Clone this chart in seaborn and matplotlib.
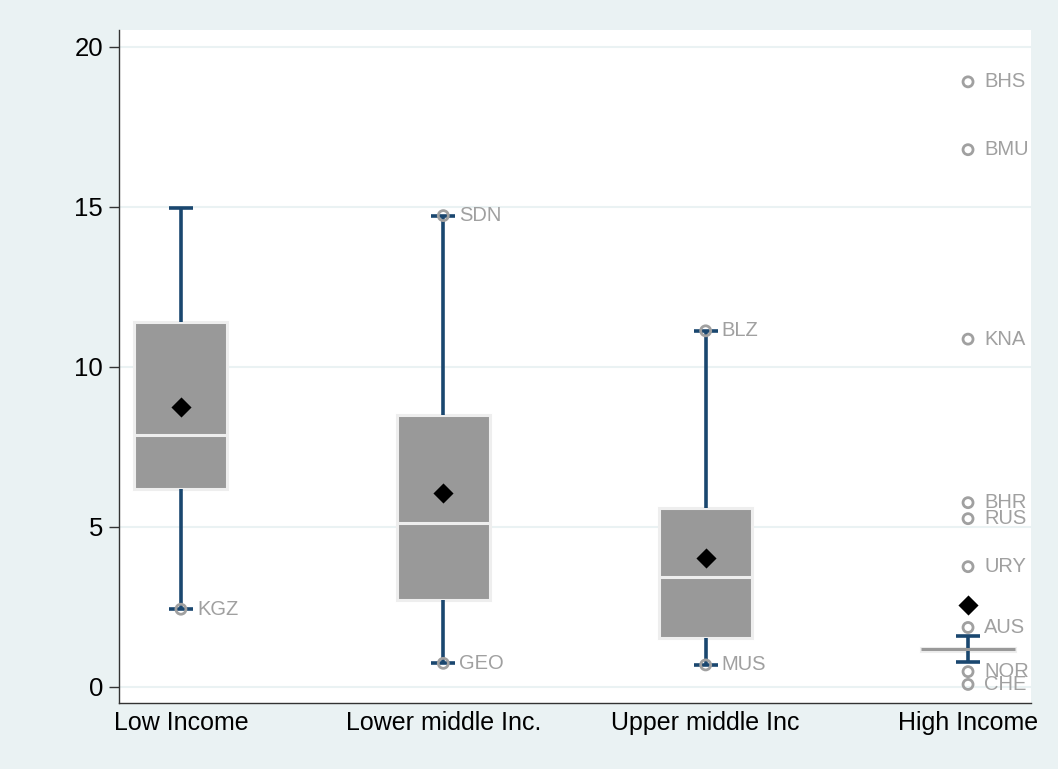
import matplotlib
matplotlib.use("Agg")
import matplotlib.pyplot as plt
import numpy as np
import pandas as pd
import seaborn as sns

# Income groups and box-plot summaries
groups = ["Low Income", "Lower middle Inc.", "Upper middle Inc", "High Income"]
q1 = [6.18, 2.71, 1.51, 1.12]
median = [7.86, 5.11, 3.44, 1.17]
q3 = [11.41, 8.49, 5.57, 1.22]
whisker_low = [2.42, 0.73, 0.68, 0.77]
whisker_high = [14.95, 14.72, 11.12, 1.57]
means = [8.75, 6.04, 4.03, 2.56]

# Labelled countries
country_code = ["KGZ", "SDN", "GEO", "BLZ", "MUS", "BHS", "BMU", "KNA",
                "BHR", "RUS", "URY", "AUS", "NOR", "CHE"]
country_group = ["Low Income", "Lower middle Inc.", "Lower middle Inc.",
                 "Upper middle Inc", "Upper middle Inc", "High Income",
                 "High Income", "High Income", "High Income", "High Income",
                 "High Income", "High Income", "High Income", "High Income"]
country_value = [2.42, 14.72, 0.73, 11.12, 0.68, 18.90, 16.78, 10.86,
                 5.75, 5.25, 3.75, 1.85, 0.47, 0.07]

y_ticks = [0, 5, 10, 15, 20]

BG = "#EAF2F3"
NAVY = "#1A476F"
BOX = "#999999"
EDGE = "#EEEEEE"
LABEL = "#A0A0A0"

sns.set_style("white")
plt.rcParams["font.family"] = ["Liberation Sans", "DejaVu Sans"]

W, H = 1058, 769
fig = plt.figure(figsize=(W / 100, H / 100), dpi=100, facecolor=BG)
ax = fig.add_axes([119 / W, 1 - 703 / H, (1031 - 119) / W, (703 - 30) / H])
ax.set_facecolor("white")

pos = np.arange(len(groups))
stats = [dict(q1=a, med=m, q3=b, whislo=lo, whishi=hi, label=g)
         for a, m, b, lo, hi, g in zip(q1, median, q3, whisker_low, whisker_high, groups)]

bp = ax.bxp(stats, positions=pos, widths=0.355, capwidths=0.092,
            patch_artist=True, showfliers=False, manage_ticks=False,
            boxprops=dict(facecolor=BOX, edgecolor=EDGE, linewidth=2.2),
            medianprops=dict(color=EDGE, linewidth=2.2),
            whiskerprops=dict(color=NAVY, linewidth=2.6, solid_capstyle="butt"),
            capprops=dict(color=NAVY, linewidth=2.6, solid_capstyle="butt"),
            zorder=2)
# the collapsed high-income box shows its median in the box colour
bp["medians"][-1].set_color(BOX)

# mean markers
mean_df = pd.DataFrame({"x": pos, "mean": means})
sns.scatterplot(data=mean_df, x="x", y="mean", ax=ax, marker="D", s=105,
                color="black", edgecolor="black", linewidth=0, zorder=5,
                legend=False)

# labelled countries
cdf = pd.DataFrame({"code": country_code, "group": country_group,
                    "value": country_value})
cdf["x"] = cdf["group"].map({g: i for i, g in enumerate(groups)})
sns.scatterplot(data=cdf, x="x", y="value", ax=ax, marker="o", s=52,
                facecolors="none", edgecolor=LABEL, linewidth=2.0,
                zorder=4, legend=False)
for _, r in cdf.iterrows():
    ax.annotate(r["code"], (r["x"], r["value"]), xytext=(11.5, 0),
                textcoords="offset points", ha="left", va="center",
                fontsize=14.5, color=LABEL, zorder=6)

ax.set_xlim(-0.236, 3.24)
ax.set_ylim(-0.51, 20.52)
ax.set_yticks(y_ticks)
ax.set_yticklabels([str(t) for t in y_ticks])
ax.set_xticks(pos)
ax.set_xticklabels(groups)
ax.set_xlabel("")
ax.set_ylabel("")

ax.yaxis.grid(True, color=BG, linewidth=1.5, zorder=0)
ax.xaxis.grid(False)
ax.set_axisbelow(True)

for s in ["top", "right"]:
    ax.spines[s].set_visible(False)
for s in ["left", "bottom"]:
    ax.spines[s].set_visible(True)
    ax.spines[s].set_color("#333333")
    ax.spines[s].set_linewidth(1.0)

ax.tick_params(axis="y", length=7.2, width=1.0, color="#333333",
               pad=4.3, labelsize=18.5, labelcolor="black", left=True)
ax.tick_params(axis="x", length=0, pad=6, labelsize=18, labelcolor="black")

fig.savefig("out.png", dpi=100, facecolor=BG)
